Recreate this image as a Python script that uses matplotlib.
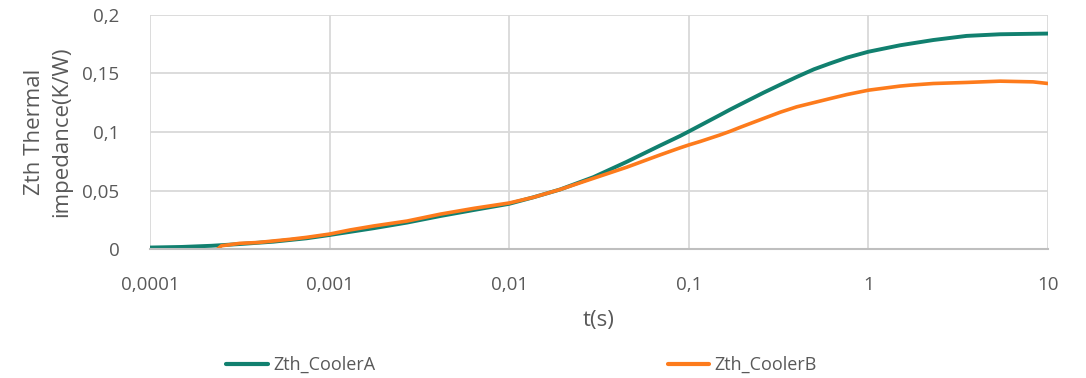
import matplotlib
matplotlib.use("Agg")
import matplotlib.pyplot as plt
from matplotlib.ticker import FixedLocator, NullLocator

# ---- data ----
t_a = [1e-4, 1.5e-4, 2.2e-4, 3.17e-4, 4.86e-4, 7.45e-4, 1e-3, 1.76e-3, 2.7e-3, 4.14e-3,
       6.34e-3, 1e-2, 1.36e-2, 1.92e-2, 2.94e-2, 4.51e-2, 6.92e-2, 8.93e-2, 0.1, 0.149,
       0.169, 0.193, 0.26, 0.324, 0.399, 0.497, 0.611, 0.76, 1.0, 1.5, 2.3, 3.52, 5.41, 10]
z_a = [0.0015, 0.002, 0.003, 0.0045, 0.0065, 0.0094, 0.0122, 0.018, 0.0228, 0.0284,
       0.0335, 0.0388, 0.0443, 0.051, 0.0615, 0.0746, 0.0885, 0.0966, 0.1005, 0.1145,
       0.119, 0.1235, 0.1335, 0.1405, 0.147, 0.1535, 0.1585, 0.1635, 0.1685, 0.174, 0.1785,
       0.182, 0.1834, 0.184]

t_b = [2.37e-4, 2.5e-4, 2.8e-4, 3.17e-4, 4e-4, 4.86e-4, 6e-4, 7.45e-4, 1e-3, 1.3e-3,
       1.76e-3, 2.7e-3, 4.14e-3, 6.34e-3, 1e-2, 1.36e-2, 1.92e-2, 2.94e-2, 4.51e-2, 6.92e-2,
       8.93e-2, 0.1, 0.116, 0.149, 0.169, 0.193, 0.26, 0.324, 0.399, 0.611, 0.76, 1.0, 1.5,
       1.71, 2.3, 3.52, 5.41, 8.26, 10]
z_b = [0.0, 0.003, 0.004, 0.0051, 0.0058, 0.0071, 0.0085, 0.0102, 0.013, 0.0165,
       0.0199, 0.0241, 0.030, 0.0349, 0.0395, 0.0443, 0.051, 0.0605, 0.070, 0.0805,
       0.0865, 0.089, 0.092, 0.0975, 0.1005, 0.104, 0.1115, 0.117, 0.1215, 0.1285, 0.132,
       0.1357, 0.1392, 0.140, 0.1414, 0.1423, 0.1434, 0.1428, 0.1414]

x_ticks = [1e-4, 1e-3, 1e-2, 1e-1, 1, 10]
x_labels = ["0,0001", "0,001", "0,01", "0,1", "1", "10"]
y_ticks = [0, 0.05, 0.1, 0.15, 0.2]
y_labels = ["0", "0,05", "0,1", "0,15", "0,2"]

series_names = ["Zth_CoolerA", "Zth_CoolerB"]
colors = ["#11806f", "#fd7b1c"]

plt.rcParams['font.family'] = ['Open Sans', 'DejaVu Sans']
text_col = "#595959"

fig = plt.figure(figsize=(10.86, 3.78), dpi=100)
ax = fig.add_axes([150/1086, 1 - 249.3/378, (1048 - 150)/1086, (249.3 - 14.8)/378])

ax.plot(t_a, z_a, color=colors[0], lw=2.8, label=series_names[0],
        solid_capstyle='round', solid_joinstyle='round')
ax.plot(t_b, z_b, color=colors[1], lw=2.6, label=series_names[1],
        solid_capstyle='round', solid_joinstyle='round')

ax.set_xscale('log')
ax.set_xlim(1e-4, 10)
ax.set_ylim(0, 0.2)
ax.xaxis.set_major_locator(FixedLocator(x_ticks))
ax.xaxis.set_minor_locator(NullLocator())
ax.set_xticks(x_ticks)
ax.set_xticklabels(x_labels)
ax.set_yticks(y_ticks)
ax.set_yticklabels(y_labels)
ax.tick_params(axis='both', length=0, colors=text_col, labelsize=13.5)
ax.tick_params(axis='x', pad=19)
ax.tick_params(axis='y', pad=22)

ax.grid(True, color="#d9d9d9", lw=1.3)
ax.set_axisbelow(True)
for s in ['top', 'right', 'left']:
    ax.spines[s].set_visible(False)
ax.spines['bottom'].set_color("#bfbfbf")
ax.spines['bottom'].set_linewidth(1.5)

ax.set_xlabel("t(s)", fontsize=16, color=text_col)
ax.xaxis.set_label_coords(0.5, (249.3 - 321) / 234.5)
ax.xaxis.label.set_va('center')
ax.set_ylabel("Zth Thermal\nimpedance(K/W)", fontsize=16, color=text_col, linespacing=1.4)
ax.yaxis.set_label_coords(-102/898, 0.5)
ax.yaxis.label.set_va('center')

leg = fig.legend(loc='center left', bbox_to_anchor=(226/1086, 1 - 365/378), ncol=2,
                 frameon=False, fontsize=13, handlelength=2.3, handletextpad=0.3,
                 columnspacing=16.2, borderpad=0, borderaxespad=0)
for txt in leg.get_texts():
    txt.set_color(text_col)
for h in leg.get_lines():
    h.set_linewidth(3)

fig.savefig("out.png", dpi=100)
